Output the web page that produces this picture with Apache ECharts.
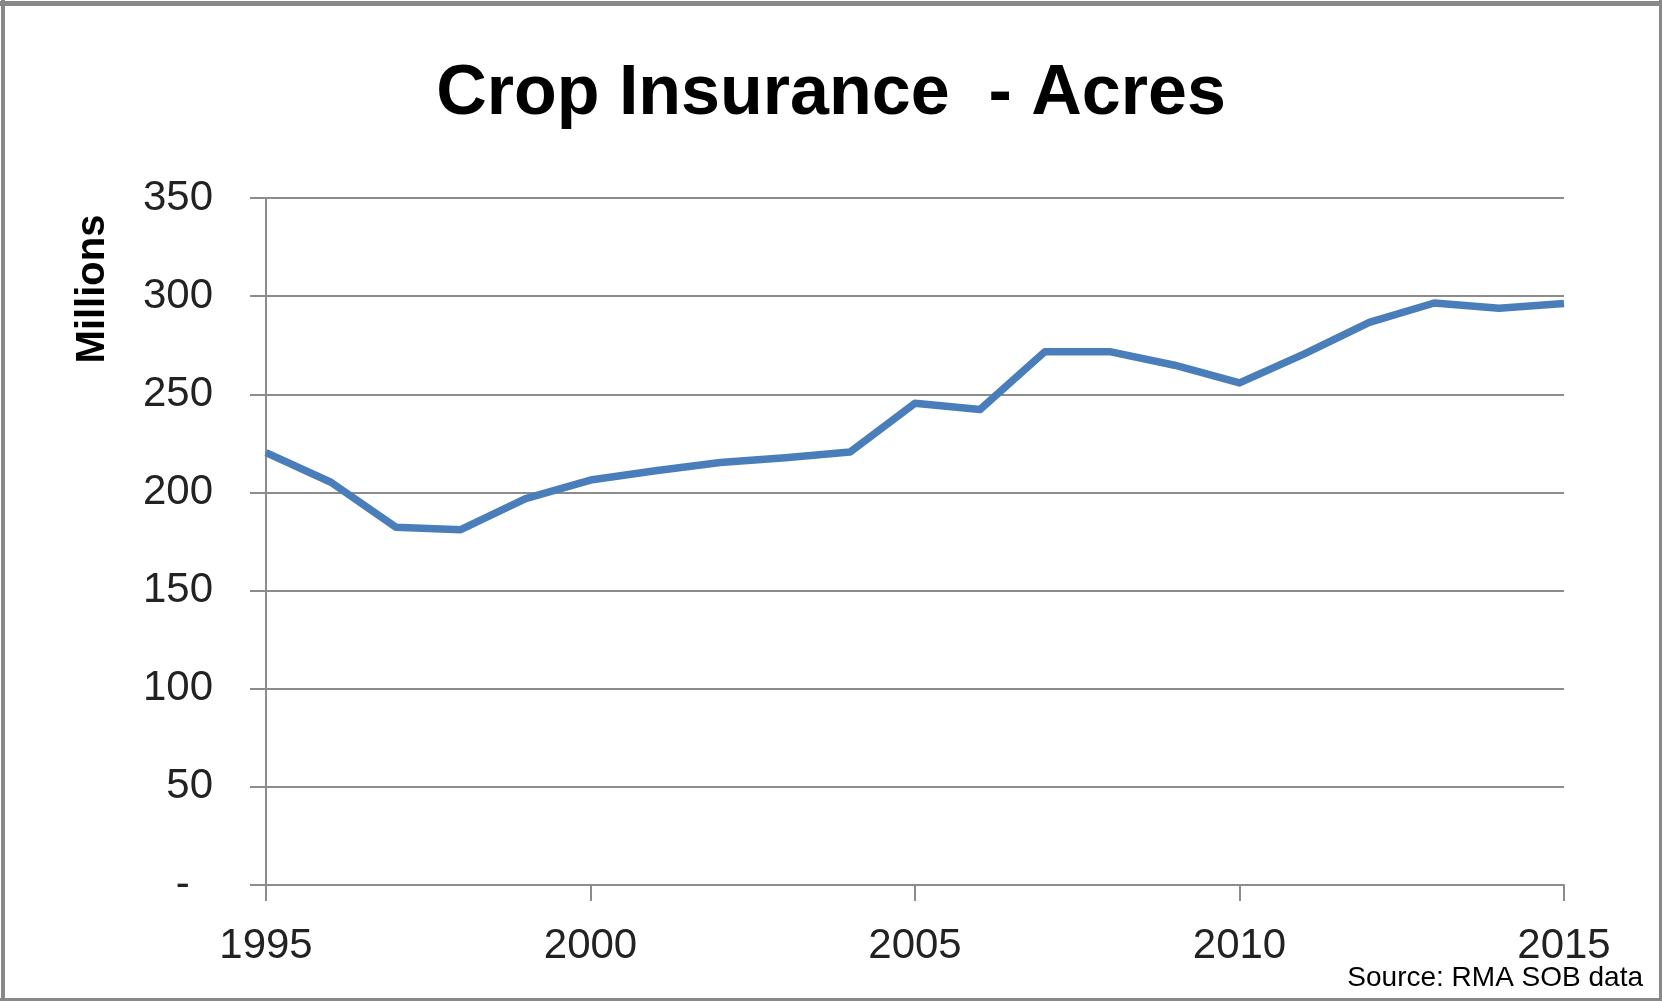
<!DOCTYPE html>
<html>
<head>
<meta charset="utf-8">
<script src="https://cdn.jsdelivr.net/npm/echarts@6/dist/echarts.min.js"></script>
<style>
  html, body { margin: 0; padding: 0; background: #fff; }
  #main { width: 1662px; height: 1001px; }
</style>
</head>
<body>
<div id="main"></div>
<script>
// years on the x axis
var years = ['1995','1996','1997','1998','1999','2000','2001','2002','2003','2004',
             '2005','2006','2007','2008','2009','2010','2011','2012','2013','2014','2015'];
// insured acres, millions
var acres = [220.3, 205.2, 182.3, 181.0, 196.8, 206.3, 211.0, 215.2, 217.7, 220.6,
             245.4, 242.2, 271.7, 271.7, 264.8, 255.8, 270.6, 286.6, 296.5, 293.8, 296.3];
var yTicks = { min: 0, max: 350, step: 50 };

var gridColor = '#8c8c8c';
var myChart = echarts.init(document.getElementById('main'));

myChart.setOption({
    animation: false,
    title: {
        text: 'Crop Insurance  - Acres',
        left: 'center',
        top: 55,
        textStyle: {
            fontFamily: 'Liberation Sans',
            fontWeight: 'bold',
            fontSize: 70,
            color: '#000'
        }
    },
    grid: {
        left: 266,
        right: 98,
        top: 198,
        bottom: 116
    },
    xAxis: {
        type: 'category',
        data: years,
        boundaryGap: false,
        axisLine: { lineStyle: { color: gridColor, width: 2 } },
        axisTick: { interval: 4, length: 16, lineStyle: { color: gridColor, width: 2 } },
        axisLabel: {
            interval: 4,
            margin: 40,
            fontFamily: 'Liberation Sans',
            fontSize: 42,
            color: '#222'
        },
        splitLine: { show: false }
    },
    yAxis: {
        type: 'value',
        min: yTicks.min,
        max: yTicks.max,
        interval: yTicks.step,
        axisLine: { show: true, lineStyle: { color: gridColor, width: 2 } },
        axisTick: { show: true, length: 16, lineStyle: { color: gridColor, width: 2 } },
        axisLabel: {
            margin: 53,
            fontFamily: 'Liberation Sans',
            fontSize: 42,
            color: '#222',
            formatter: function (v) { return v === 0 ? '-  ' : v; }
        },
        splitLine: { lineStyle: { color: gridColor, width: 2 } }
    },
    series: [{
        name: 'Acres',
        type: 'line',
        data: acres,
        showSymbol: false,
        lineStyle: { color: '#4A7EBB', width: 7.5, join: 'round' },
        itemStyle: { color: '#4A7EBB' }
    }],
    graphic: [
        {
            type: 'text',
            x: 93, y: 289,
            rotation: Math.PI / 2,
            style: {
                text: 'Millions',
                fontFamily: 'Liberation Sans',
                fontWeight: 'bold',
                fontSize: 40,
                fill: '#000',
                align: 'center',
                verticalAlign: 'middle'
            }
        },
        {
            type: 'text',
            x: 1643, y: 978,
            style: {
                text: 'Source: RMA SOB data',
                fontFamily: 'Liberation Sans',
                fontSize: 28,
                fill: '#000',
                align: 'right',
                verticalAlign: 'middle'
            }
        },
        // chart area frame
        { type: 'line', shape: { x1: 0, y1: 3.5, x2: 1662, y2: 3.5 }, style: { stroke: '#888', lineWidth: 5 } },
        { type: 'line', shape: { x1: 3, y1: 0, x2: 3, y2: 1001 }, style: { stroke: '#888', lineWidth: 4 } },
        { type: 'line', shape: { x1: 1660.5, y1: 0, x2: 1660.5, y2: 1001 }, style: { stroke: '#888', lineWidth: 3 } },
        { type: 'line', shape: { x1: 0, y1: 999.5, x2: 1662, y2: 999.5 }, style: { stroke: '#888', lineWidth: 3 } }
    ]
});
</script>
</body>
</html>
